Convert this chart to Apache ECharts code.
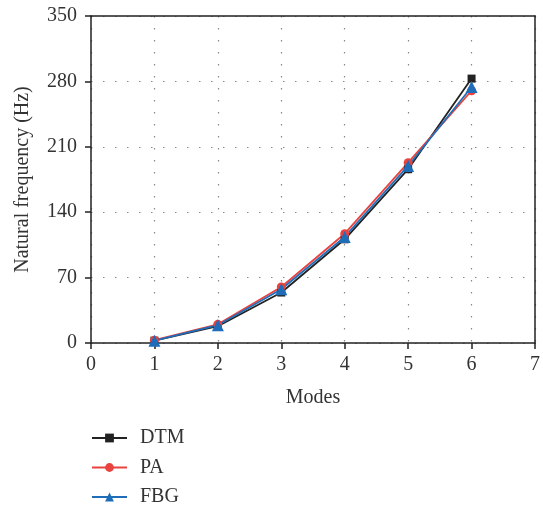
<!DOCTYPE html>
<html>
<head>
<meta charset="utf-8">
<script src="https://cdn.jsdelivr.net/npm/echarts@6/dist/echarts.min.js"></script>
<style>html,body{margin:0;padding:0;background:#fff;}#c{width:543px;height:509px;}</style>
</head>
<body>
<div id="c"></div>
<script>
const modes = [1, 2, 3, 4, 5, 6];
const dtm = [2.5, 18, 54, 111, 186, 283];
const pa = [3, 20, 60, 117, 193, 270];
const fbg = [2.5, 19, 57.5, 113.5, 189.5, 274];
const seriesNames = ['DTM', 'PA', 'FBG'];
const xTicks = [0, 1, 2, 3, 4, 5, 6, 7];
const yTicks = [0, 70, 140, 210, 280, 350];

const font = '"Liberation Serif", "DejaVu Serif", serif';
const txt = '#333';
const axisCol = '#222';
const fs = 20;

function pairs(vals) { return modes.map((m, i) => [m, vals[i]]); }

const gridLine = { show: true, lineStyle: { color: '#888', type: [1.5, 10.5], width: 1.2 } };
const frameAxis = {
  type: 'value', axisLine: { show: true, onZero: false, lineStyle: { color: axisCol, width: 1.5 } },
  axisTick: { show: false }, axisLabel: { show: false }, splitLine: { show: false }
};

const chart = echarts.init(document.getElementById('c'), null, { renderer: 'canvas' });
chart.setOption({
  animation: false,
  grid: { left: 91, right: 7, top: 16, bottom: 166 },
  legend: {
    orient: 'vertical', left: 91, top: 428, height: 81, padding: 0,
    itemWidth: 35, itemHeight: 11, itemGap: 9.5,
    data: seriesNames,
    textStyle: { fontFamily: font, fontSize: fs, color: txt, padding: [0, 0, 0, 8] }
  },
  xAxis: [{
    type: 'value', min: xTicks[0], max: xTicks[xTicks.length - 1], interval: 1,
    name: 'Modes', nameLocation: 'middle', nameGap: 45,
    nameTextStyle: { fontFamily: font, fontSize: fs, color: txt },
    axisLine: { lineStyle: { color: axisCol, width: 1.5 } },
    axisTick: { show: true, inside: false, length: 6, lineStyle: { color: axisCol, width: 1.5 } },
    axisLabel: { fontFamily: font, fontSize: fs, color: txt, margin: 12 },
    splitLine: gridLine
  }, Object.assign({}, frameAxis, { position: 'top', min: 0, max: 7 })],
  yAxis: [{
    type: 'value', min: yTicks[0], max: yTicks[yTicks.length - 1], interval: 70,
    name: 'Natural frequency (Hz)', nameLocation: 'middle', nameGap: 58,
    nameTextStyle: { fontFamily: font, fontSize: fs, color: txt },
    axisLine: { lineStyle: { color: axisCol, width: 1.5 } },
    axisTick: { show: true, inside: false, length: 6, lineStyle: { color: axisCol, width: 1.5 } },
    axisLabel: { fontFamily: font, fontSize: fs, color: txt, margin: 14 },
    splitLine: gridLine
  }, Object.assign({}, frameAxis, { position: 'right', min: 0, max: 350 })],
  series: [
    { name: 'DTM', type: 'line', data: pairs(dtm), symbol: 'rect', symbolSize: 8,
      itemStyle: { color: '#222' }, lineStyle: { color: '#222', width: 1.8 } },
    { name: 'PA', type: 'line', data: pairs(pa), symbol: 'circle', symbolSize: 9,
      itemStyle: { color: '#e8433f' }, lineStyle: { color: '#e8433f', width: 1.8 } },
    { name: 'FBG', type: 'line', data: pairs(fbg), symbol: 'triangle', symbolSize: 12,
      itemStyle: { color: '#1f6db8' }, lineStyle: { color: '#1f6db8', width: 1.8 } }
  ]
});
</script>
</body>
</html>
